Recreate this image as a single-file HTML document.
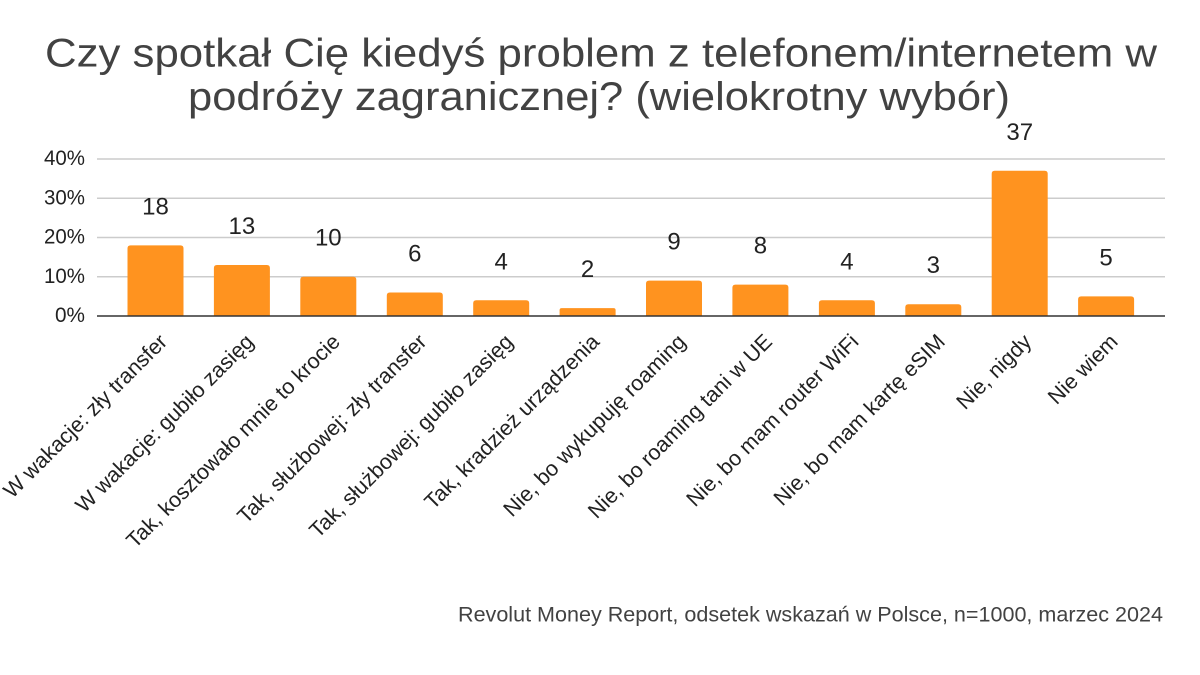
<!DOCTYPE html>
<html>
<head>
<meta charset="utf-8">
<style>
  html,body{margin:0;padding:0;background:#fff;}
  svg{display:block;}
  text{font-family:"Liberation Sans", sans-serif;}
</style>
</head>
<body>
<svg width="1200" height="675" viewBox="0 0 1200 675" xmlns="http://www.w3.org/2000/svg">
  <rect width="1200" height="675" fill="#fff"/>
  <!-- Title -->
  <text x="601" y="66.5" font-size="40" fill="#424242" text-anchor="middle" textLength="1112" lengthAdjust="spacingAndGlyphs">Czy spotkał Cię kiedyś problem z telefonem/internetem w</text>
  <text x="599" y="110" font-size="40" fill="#424242" text-anchor="middle" textLength="822" lengthAdjust="spacingAndGlyphs">podróży zagranicznej? (wielokrotny wybór)</text>

  <!-- Gridlines -->
  <g stroke="#cccccc" stroke-width="1.5">
    <line x1="97" y1="159" x2="1165" y2="159"/>
    <line x1="97" y1="198.3" x2="1165" y2="198.3"/>
    <line x1="97" y1="237.5" x2="1165" y2="237.5"/>
    <line x1="97" y1="276.8" x2="1165" y2="276.8"/>
  </g>

  <!-- Y tick labels -->
  <g font-size="21.5" fill="#222" text-anchor="end">
    <text x="85" y="165" textLength="41" lengthAdjust="spacingAndGlyphs">40%</text>
    <text x="85" y="204.3" textLength="41" lengthAdjust="spacingAndGlyphs">30%</text>
    <text x="85" y="243.5" textLength="41" lengthAdjust="spacingAndGlyphs">20%</text>
    <text x="85" y="282.8" textLength="41" lengthAdjust="spacingAndGlyphs">10%</text>
    <text x="85" y="322" textLength="30" lengthAdjust="spacingAndGlyphs">0%</text>
  </g>

  <!-- Bars -->
  <g fill="#ff931f">
    <path d="M127.5,316 V248.35 Q127.5,245.35 130.5,245.35 H180.5 Q183.5,245.35 183.5,248.35 V316 Z"/>
    <path d="M213.9,316 V267.98 Q213.9,264.98 216.9,264.98 H266.9 Q269.9,264.98 269.9,267.98 V316 Z"/>
    <path d="M300.3,316 V279.75 Q300.3,276.75 303.3,276.75 H353.3 Q356.3,276.75 356.3,279.75 V316 Z"/>
    <path d="M386.8,316 V295.45 Q386.8,292.45 389.8,292.45 H439.8 Q442.8,292.45 442.8,295.45 V316 Z"/>
    <path d="M473.2,316 V303.3 Q473.2,300.3 476.2,300.3 H526.2 Q529.2,300.3 529.2,303.3 V316 Z"/>
    <path d="M559.6,316 V310.15 Q559.6,308.15 561.6,308.15 H613.6 Q615.6,308.15 615.6,310.15 V316 Z"/>
    <path d="M646.0,316 V283.68 Q646.0,280.68 649.0,280.68 H699.0 Q702.0,280.68 702.0,283.68 V316 Z"/>
    <path d="M732.4,316 V287.6 Q732.4,284.6 735.4,284.6 H785.4 Q788.4,284.6 788.4,287.6 V316 Z"/>
    <path d="M818.9,316 V303.3 Q818.9,300.3 821.9,300.3 H871.9 Q874.9,300.3 874.9,303.3 V316 Z"/>
    <path d="M905.3,316 V307.23 Q905.3,304.23 908.3,304.23 H958.3 Q961.3,304.23 961.3,307.23 V316 Z"/>
    <path d="M991.7,316 V173.78 Q991.7,170.78 994.7,170.78 H1044.7 Q1047.7,170.78 1047.7,173.78 V316 Z"/>
    <path d="M1078.1,316 V299.38 Q1078.1,296.38 1081.1,296.38 H1131.1 Q1134.1,296.38 1134.1,299.38 V316 Z"/>
  </g>

  <!-- Axis line -->
  <line x1="97" y1="316" x2="1165" y2="316" stroke="#333" stroke-width="1.6"/>

  <!-- Value labels -->
  <g font-size="24" fill="#222" text-anchor="middle">
    <text x="155.5" y="214.3">18</text>
    <text x="241.9" y="234">13</text>
    <text x="328.3" y="245.7">10</text>
    <text x="414.8" y="261.4">6</text>
    <text x="501.2" y="269.3">4</text>
    <text x="587.6" y="277.2">2</text>
    <text x="674.0" y="249.7">9</text>
    <text x="760.4" y="253.6">8</text>
    <text x="846.9" y="269.3">4</text>
    <text x="933.3" y="273.2">3</text>
    <text x="1019.7" y="139.8">37</text>
    <text x="1106.1" y="265.4">5</text>
  </g>

  <!-- X category labels -->
  <g font-size="21.5" fill="#222" text-anchor="end">
    <text transform="translate(168.5,343) rotate(-45)">W wakacje: zły transfer</text>
    <text transform="translate(254.9,343) rotate(-45)">W wakacje: gubiło zasięg</text>
    <text transform="translate(341.3,343) rotate(-45)">Tak, kosztowało mnie to krocie</text>
    <text transform="translate(427.8,343) rotate(-45)">Tak, służbowej: zły transfer</text>
    <text transform="translate(514.2,343) rotate(-45)">Tak, służbowej: gubiło zasięg</text>
    <text transform="translate(600.6,343) rotate(-45)">Tak, kradzież urządzenia</text>
    <text transform="translate(687.0,343) rotate(-45)">Nie, bo wykupuję roaming</text>
    <text transform="translate(773.4,343) rotate(-45)">Nie, bo roaming tani w UE</text>
    <text transform="translate(859.9,343) rotate(-45)">Nie, bo mam router WiFi</text>
    <text transform="translate(946.3,343) rotate(-45)">Nie, bo mam kartę eSIM</text>
    <text transform="translate(1032.7,343) rotate(-45)">Nie, nigdy</text>
    <text transform="translate(1119.1,343) rotate(-45)">Nie wiem</text>
  </g>

  <!-- Footer -->
  <text x="1163" y="621.5" font-size="21" fill="#424242" text-anchor="end" textLength="705" lengthAdjust="spacingAndGlyphs">Revolut Money Report, odsetek wskazań w Polsce, n=1000, marzec 2024</text>
</svg>
</body>
</html>
